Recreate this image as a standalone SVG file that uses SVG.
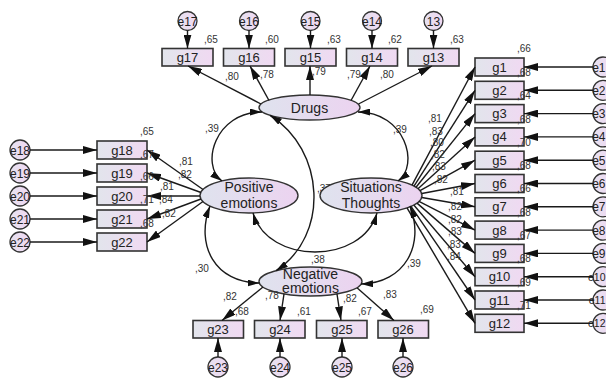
<svg xmlns="http://www.w3.org/2000/svg" width="606" height="378" viewBox="0 0 606 378">
<defs>
<linearGradient id="gb" x1="0" y1="0" x2="1" y2="0">
<stop offset="0" stop-color="#e2e5ec"/><stop offset="1" stop-color="#f0d9f2"/>
</linearGradient>
<linearGradient id="ge" x1="0" y1="0" x2="1" y2="0">
<stop offset="0" stop-color="#dfe3ee"/><stop offset="1" stop-color="#ecd3f0"/>
</linearGradient>
<linearGradient id="gc" x1="0" y1="0" x2="1" y2="0">
<stop offset="0" stop-color="#e6e2f0"/><stop offset="1" stop-color="#f0d8f2"/>
</linearGradient>
<marker id="ah" markerUnits="userSpaceOnUse" viewBox="0 0 14 8" markerWidth="14" markerHeight="8" refX="14" refY="4" orient="auto-start-reverse">
<path d="M0,0 L14,4 L0,8 z" fill="#111"/>
</marker>
<marker id="ac" markerUnits="userSpaceOnUse" viewBox="0 0 12 7" markerWidth="12" markerHeight="7" refX="12" refY="3.5" orient="auto-start-reverse">
<path d="M0,0 L12,3.5 L0,7 z" fill="#111"/>
</marker>
<style>
.box{fill:url(#gb);stroke:#333;stroke-width:1.6}
.lat{fill:url(#ge);stroke:#333;stroke-width:1.4}
.err{fill:url(#gc);stroke:#333;stroke-width:1.3}
.t{font-family:"Liberation Sans",Arial,sans-serif;fill:#222;text-anchor:middle}
.bt{font-size:13px}
.lt{font-size:14px}
.et{font-size:12px}
.es{font-size:10.5px}
.er{text-anchor:end}
.n{font-family:"Liberation Sans",Arial,sans-serif;font-size:10px;fill:#333}
.ln{fill:none;stroke:#1a1a1a;stroke-width:1.4;marker-end:url(#ah)}
.cv{fill:none;stroke:#1a1a1a;stroke-width:1.4;marker-start:url(#ac);marker-end:url(#ac)}
</style>
</defs>
<rect width="606" height="378" fill="#fff"/>

<g id="labels-under">
<text class="n" x="317" y="192">,37</text>
</g>

<g id="nodes">
<g id="Drugs"><ellipse class="lat" cx="309.5" cy="107.5" rx="50.5" ry="12.5"/><text class="t lt" x="309.5" y="112.5">Drugs</text></g>
<g id="Positive"><ellipse class="lat" cx="249" cy="195.5" rx="49" ry="17.5"/><text class="t lt" x="249" y="192">Positive</text><text class="t lt" x="249" y="208">emotions</text></g>
<g id="Situations"><ellipse class="lat" cx="371" cy="195.5" rx="51" ry="17.5"/><text class="t lt" x="371" y="192">Situations</text><text class="t lt" x="371" y="208">Thoughts</text></g>
<g id="Negative"><ellipse class="lat" cx="310.5" cy="281.5" rx="51.5" ry="14.5"/><text class="t lt" x="310.5" y="278.5">Negative</text><text class="t lt" x="310.5" y="293">emotions</text></g>

<g id="g17"><rect class="box" x="162" y="48.5" width="51" height="17.5"/><text class="t bt" x="187.5" y="62">g17</text></g>
<g id="g16"><rect class="box" x="223.5" y="48.5" width="51" height="17.5"/><text class="t bt" x="249" y="62">g16</text></g>
<g id="g15"><rect class="box" x="285" y="48.5" width="51" height="17.5"/><text class="t bt" x="310.5" y="62">g15</text></g>
<g id="g14"><rect class="box" x="346.5" y="48.5" width="51" height="17.5"/><text class="t bt" x="372" y="62">g14</text></g>
<g id="g13"><rect class="box" x="408" y="48.5" width="51" height="17.5"/><text class="t bt" x="433.5" y="62">g13</text></g>

<g id="e17"><circle class="err" cx="187.5" cy="21" r="9.5"/><text class="t et" x="187.5" y="25.5">e17</text></g>
<g id="e16"><circle class="err" cx="249" cy="21" r="9.5"/><text class="t et" x="249" y="25.5">e16</text></g>
<g id="e15"><circle class="err" cx="310.5" cy="21" r="9.5"/><text class="t et" x="310.5" y="25.5">e15</text></g>
<g id="e14"><circle class="err" cx="372" cy="21" r="9.5"/><text class="t et" x="372" y="25.5">e14</text></g>
<g id="e13"><circle class="err" cx="433.5" cy="21" r="9.5"/><text class="t et" x="433.5" y="25.5">13</text></g>

<g id="g18"><rect class="box" x="97" y="141" width="50" height="18"/><text class="t bt" x="122" y="154.5">g18</text></g>
<g id="g19"><rect class="box" x="97" y="164" width="50" height="18"/><text class="t bt" x="122" y="177.5">g19</text></g>
<g id="g20"><rect class="box" x="97" y="187" width="50" height="18"/><text class="t bt" x="122" y="200.5">g20</text></g>
<g id="g21"><rect class="box" x="97" y="210" width="50" height="18"/><text class="t bt" x="122" y="223.5">g21</text></g>
<g id="g22"><rect class="box" x="97" y="233" width="50" height="18"/><text class="t bt" x="122" y="246.5">g22</text></g>

<g id="e18"><circle class="err" cx="20" cy="150" r="10"/><text class="t et" x="20" y="154.5">e18</text></g>
<g id="e19"><circle class="err" cx="20" cy="173" r="10"/><text class="t et" x="20" y="177.5">e19</text></g>
<g id="e20"><circle class="err" cx="20" cy="196" r="10"/><text class="t et" x="20" y="200.5">e20</text></g>
<g id="e21"><circle class="err" cx="20" cy="219" r="10"/><text class="t et" x="20" y="223.5">e21</text></g>
<g id="e22"><circle class="err" cx="20" cy="242" r="10"/><text class="t et" x="20" y="246.5">e22</text></g>

<g id="g1"><rect class="box" x="475" y="58" width="49" height="18"/><text class="t bt" x="499.5" y="71.5">g1</text></g>
<g id="g2"><rect class="box" x="475" y="81.3" width="49" height="18"/><text class="t bt" x="499.5" y="94.8">g2</text></g>
<g id="g3"><rect class="box" x="475" y="104.6" width="49" height="18"/><text class="t bt" x="499.5" y="118.1">g3</text></g>
<g id="g4"><rect class="box" x="475" y="127.9" width="49" height="18"/><text class="t bt" x="499.5" y="141.4">g4</text></g>
<g id="g5"><rect class="box" x="475" y="151.2" width="49" height="18"/><text class="t bt" x="499.5" y="164.7">g5</text></g>
<g id="g6"><rect class="box" x="475" y="174.5" width="49" height="18"/><text class="t bt" x="499.5" y="188">g6</text></g>
<g id="g7"><rect class="box" x="475" y="197.8" width="49" height="18"/><text class="t bt" x="499.5" y="211.3">g7</text></g>
<g id="g8"><rect class="box" x="475" y="221.1" width="49" height="18"/><text class="t bt" x="499.5" y="234.6">g8</text></g>
<g id="g9"><rect class="box" x="475" y="244.4" width="49" height="18"/><text class="t bt" x="499.5" y="257.9">g9</text></g>
<g id="g10"><rect class="box" x="475" y="267.7" width="49" height="18"/><text class="t bt" x="499.5" y="281.2">g10</text></g>
<g id="g11"><rect class="box" x="475" y="291" width="49" height="18"/><text class="t bt" x="499.5" y="304.5">g11</text></g>
<g id="g12"><rect class="box" x="475" y="314.3" width="49" height="18"/><text class="t bt" x="499.5" y="327.8">g12</text></g>

<g id="e1"><circle class="err" cx="603" cy="67" r="10"/><text class="t et er" x="605.5" y="71.5">e1</text></g>
<g id="e2"><circle class="err" cx="603" cy="90.3" r="10"/><text class="t et er" x="605.5" y="94.8">e2</text></g>
<g id="e3"><circle class="err" cx="603" cy="113.6" r="10"/><text class="t et er" x="605.5" y="118.1">e3</text></g>
<g id="e4"><circle class="err" cx="603" cy="136.9" r="10"/><text class="t et er" x="605.5" y="141.4">e4</text></g>
<g id="e5"><circle class="err" cx="603" cy="160.2" r="10"/><text class="t et er" x="605.5" y="164.7">e5</text></g>
<g id="e6"><circle class="err" cx="603" cy="183.5" r="10"/><text class="t et er" x="605.5" y="188">e6</text></g>
<g id="e7"><circle class="err" cx="603" cy="206.8" r="10"/><text class="t et er" x="605.5" y="211.3">e7</text></g>
<g id="e8"><circle class="err" cx="603" cy="230.1" r="10"/><text class="t et er" x="605.5" y="234.6">e8</text></g>
<g id="e9"><circle class="err" cx="603" cy="253.4" r="10"/><text class="t et er" x="605.5" y="257.9">e9</text></g>
<g id="e10"><circle class="err" cx="603" cy="276.7" r="10"/><text class="t es er" x="605.5" y="280.7">e10</text></g>
<g id="e11"><circle class="err" cx="603" cy="300" r="10"/><text class="t es er" x="605.5" y="304">e11</text></g>
<g id="e12"><circle class="err" cx="603" cy="323.3" r="10"/><text class="t es er" x="605.5" y="327.3">e12</text></g>

<g id="g23"><rect class="box" x="193" y="320.5" width="50.5" height="17.5"/><text class="t bt" x="218" y="334">g23</text></g>
<g id="g24"><rect class="box" x="254.5" y="320.5" width="50.5" height="17.5"/><text class="t bt" x="280" y="334">g24</text></g>
<g id="g25"><rect class="box" x="316.5" y="320.5" width="50.5" height="17.5"/><text class="t bt" x="342" y="334">g25</text></g>
<g id="g26"><rect class="box" x="378" y="320.5" width="50.5" height="17.5"/><text class="t bt" x="403" y="334">g26</text></g>

<g id="e23"><circle class="err" cx="218" cy="367" r="10"/><text class="t et" x="218" y="371.5">e23</text></g>
<g id="e24"><circle class="err" cx="280" cy="367" r="10"/><text class="t et" x="280" y="371.5">e24</text></g>
<g id="e25"><circle class="err" cx="342" cy="367" r="10"/><text class="t et" x="342" y="371.5">e25</text></g>
<g id="e26"><circle class="err" cx="403" cy="367" r="10"/><text class="t et" x="403" y="371.5">e26</text></g>
</g>

<g id="connectors">
<path class="ln" d="M187.5,30.5 L187.5,48.5"/>
<path class="ln" d="M249,30.5 L249,48.5"/>
<path class="ln" d="M310.5,30.5 L310.5,48.5"/>
<path class="ln" d="M372,30.5 L372,48.5"/>
<path class="ln" d="M433.5,30.5 L433.5,48.5"/>
<path class="ln" d="M30,150 L97,150"/>
<path class="ln" d="M30,173 L97,173"/>
<path class="ln" d="M30,196 L97,196"/>
<path class="ln" d="M30,219 L97,219"/>
<path class="ln" d="M30,242 L97,242"/>
<path class="ln" d="M593,67 L524,67"/>
<path class="ln" d="M593,90.3 L524,90.3"/>
<path class="ln" d="M593,113.6 L524,113.6"/>
<path class="ln" d="M593,136.9 L524,136.9"/>
<path class="ln" d="M593,160.2 L524,160.2"/>
<path class="ln" d="M593,183.5 L524,183.5"/>
<path class="ln" d="M593,206.8 L524,206.8"/>
<path class="ln" d="M593,230.1 L524,230.1"/>
<path class="ln" d="M593,253.4 L524,253.4"/>
<path class="ln" d="M593,276.7 L524,276.7"/>
<path class="ln" d="M593,300 L524,300"/>
<path class="ln" d="M593,323.3 L524,323.3"/>
<path class="ln" d="M218,357 L218,338"/>
<path class="ln" d="M280,357 L280,338"/>
<path class="ln" d="M342,357 L342,338"/>
<path class="ln" d="M403,357 L403,338"/>
<path class="ln" d="M261,104 L188,66"/>
<path class="ln" d="M269,100.5 L250,66"/>
<path class="ln" d="M310,95 L310,66"/>
<path class="ln" d="M351,100.5 L370,66"/>
<path class="ln" d="M358.5,104 L432,66"/>
<path class="ln" d="M203,189.5 L147,150"/>
<path class="ln" d="M201,192.5 L147,173"/>
<path class="ln" d="M200,196 L147,196"/>
<path class="ln" d="M201,199 L147,219"/>
<path class="ln" d="M203,201.5 L147,242"/>
<path class="ln" d="M412,185.1 L475,67"/>
<path class="ln" d="M414,186.1 L475,90.3"/>
<path class="ln" d="M416,187.3 L475,113.6"/>
<path class="ln" d="M418,188.7 L475,136.9"/>
<path class="ln" d="M420,190.7 L475,160.2"/>
<path class="ln" d="M421.8,193.5 L475,183.5"/>
<path class="ln" d="M421.8,197.5 L475,206.8"/>
<path class="ln" d="M419,201.4 L475,230.1"/>
<path class="ln" d="M417,203.1 L475,253.4"/>
<path class="ln" d="M414,205.3 L475,276.7"/>
<path class="ln" d="M411,206.4 L475,300"/>
<path class="ln" d="M407,207.9 L475,323.3"/>
<path class="ln" d="M263,287 L222,320.5"/>
<path class="ln" d="M284,294 L280,320.5"/>
<path class="ln" d="M337,294 L341,320.5"/>
<path class="ln" d="M357,287.7 L394,320.5"/>
<path class="cv" d="M262,112 C215,112 200,165 222,181"/>
<path class="cv" d="M358,112 C405,112 420,165 398,181"/>
<path class="cv" d="M270,115.3 C325,150 330,235 276,270.7"/>
<path class="cv" d="M210,206 C195,245 215,283 259.5,283"/>
<path class="cv" d="M410,206 C425,245 405,283 361,284"/>
<path class="cv" d="M253,213 C268,265 362,265 377,213"/>
</g>

<g id="labels">
<text class="n" x="204" y="43">,65</text>
<text class="n" x="265" y="43">,60</text>
<text class="n" x="327" y="43">,63</text>
<text class="n" x="388" y="43">,62</text>
<text class="n" x="450" y="43">,63</text>
<text class="n" x="225" y="80">,80</text>
<text class="n" x="260" y="78">,78</text>
<text class="n" x="312" y="75">,79</text>
<text class="n" x="347" y="78">,79</text>
<text class="n" x="380" y="78">,80</text>

<text class="n" x="140" y="135">,65</text>
<text class="n" x="140" y="158">,67</text>
<text class="n" x="140" y="180">,66</text>
<text class="n" x="140" y="203">,71</text>
<text class="n" x="140" y="227">,68</text>
<text class="n" x="179" y="165">,81</text>
<text class="n" x="178" y="178">,82</text>
<text class="n" x="160" y="190">,81</text>
<text class="n" x="159" y="203">,84</text>
<text class="n" x="162" y="217">,82</text>

<text class="n" x="517" y="52">,66</text>
<text class="n" x="517" y="76">,68</text>
<text class="n" x="517" y="99">,64</text>
<text class="n" x="517" y="122.5">,68</text>
<text class="n" x="517" y="145.8">,70</text>
<text class="n" x="517" y="169">,68</text>
<text class="n" x="517" y="192.3">,66</text>
<text class="n" x="517" y="215.6">,68</text>
<text class="n" x="517" y="239">,67</text>
<text class="n" x="517" y="262.3">,68</text>
<text class="n" x="517" y="285.6">,69</text>
<text class="n" x="517" y="309">,71</text>

<text class="n" x="428" y="122">,81</text>
<text class="n" x="429" y="135">,83</text>
<text class="n" x="430" y="146">,80</text>
<text class="n" x="431" y="158">,82</text>
<text class="n" x="432" y="170">,83</text>
<text class="n" x="434" y="183">,82</text>
<text class="n" x="450" y="195">,81</text>
<text class="n" x="448" y="210">,82</text>
<text class="n" x="448" y="223">,82</text>
<text class="n" x="448" y="235">,83</text>
<text class="n" x="447" y="248">,83</text>
<text class="n" x="447" y="260">,84</text>

<text class="n" x="223" y="300">,82</text>
<text class="n" x="235" y="315">,68</text>
<text class="n" x="265" y="299">,78</text>
<text class="n" x="297" y="315">,61</text>
<text class="n" x="343" y="302">,82</text>
<text class="n" x="358" y="315">,67</text>
<text class="n" x="383" y="298">,83</text>
<text class="n" x="420" y="313">,69</text>

<text class="n" x="205" y="132">,39</text>
<text class="n" x="393" y="133">,39</text>
<text class="n" x="195" y="272">,30</text>
<text class="n" x="311" y="263">,38</text>
<text class="n" x="407" y="267">,39</text>
</g>
</svg>
